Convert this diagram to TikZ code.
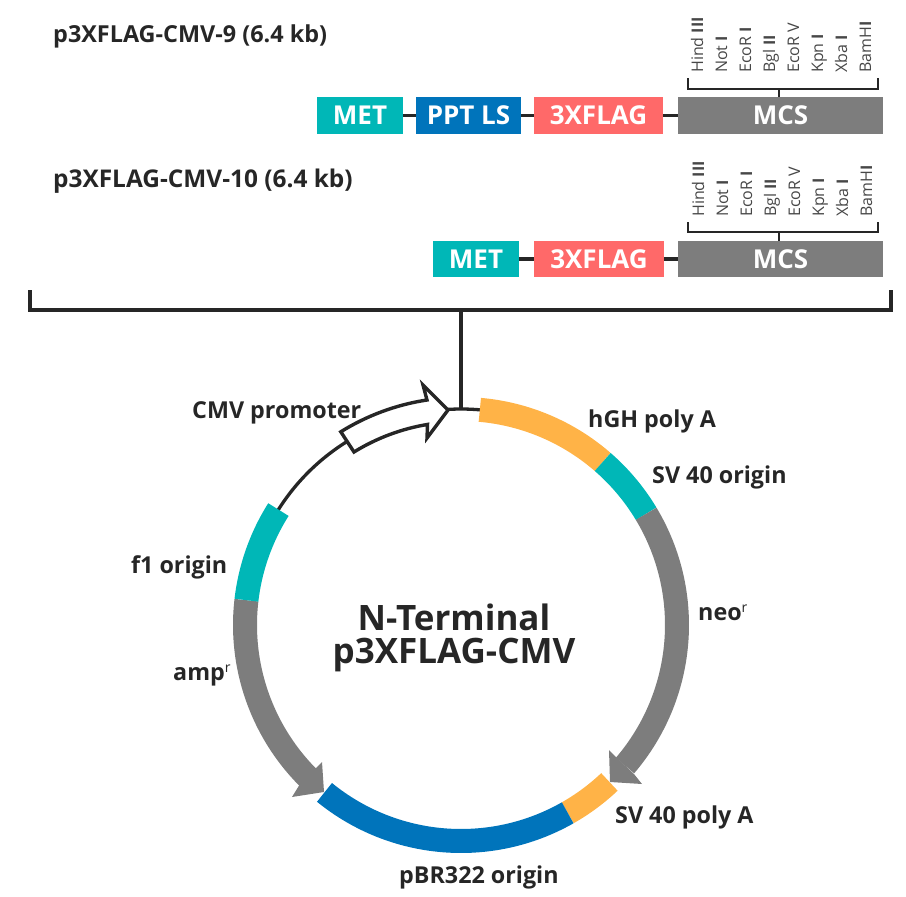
\documentclass[tikz,border=0pt]{standalone}
\usepackage{fontspec}
\setmainfont{Open Sans}
\definecolor{tealc}{HTML}{00B7B7}
\definecolor{bluec}{HTML}{0074BB}
\definecolor{coralc}{HTML}{FF6969}
\definecolor{orangec}{HTML}{FFB347}
\definecolor{greyc}{HTML}{7D7D7D}
\definecolor{inkc}{HTML}{262626}
\tikzset{
  boxn/.style={inner sep=0pt,minimum height=#1,text=white,font=\fontsize{26}{28}\selectfont\bfseries},
  lnk/.style={draw=inkc,line width=3.3pt},
  thinlnk/.style={draw=inkc,line width=2.4pt},
  site/.style={rotate=90,anchor=base west,inner sep=0pt,text=inkc!85!white,font=\fontsize{16}{18}\selectfont},
  lab/.style={anchor=base west,inner sep=0pt,text=inkc,font=\fontsize{23.3}{26}\selectfont\bfseries},
  ttl/.style={anchor=base west,inner sep=0pt,text=inkc,font=\fontsize{23.4}{26}\selectfont\bfseries},
  ttlb/.style={anchor=base west,inner sep=0pt,text=inkc,font=\fontsize{24.4}{26}\selectfont\bfseries},
  big/.style={anchor=base,inner sep=0pt,text=inkc,font=\fontsize{35}{38}\selectfont\bfseries},
  band/.style={line width=24pt,line cap=butt},
}
\newcommand{\seg}[4]{\draw[band,draw=#1] ($(C)+(#2:216pt)$) arc[start angle=#2,end angle=#3,radius=216pt];}
\newcommand{\supr}{\raisebox{8pt}{\fontsize{14}{14}\selectfont\mdseries r}}
\usetikzlibrary{calc}
\begin{document}
\begin{tikzpicture}[x=1pt,y=1pt]
\useasboundingbox (0,-897) rectangle (906,0);
\coordinate (C) at (461,-625);
% titles
\node[ttl] (t1) at (53,-42.5) {p3XFLAG-CMV-9 (6.4 kb)};
\node[ttlb] (t2) at (53,-187) {p3XFLAG-CMV-10 (6.4 kb)};
% row 1
\node[boxn=37pt,minimum width=86pt,fill=tealc] (met1) at (360,-115.5) {MET};
\node[boxn=37pt,minimum width=105pt,fill=bluec] (ppt1) at (468.5,-115.5) {PPT LS};
\node[boxn=37pt,minimum width=129pt,fill=coralc] (flag1) at (598.5,-115.5) {3XFLAG};
\node[boxn=37pt,minimum width=205pt,fill=greyc] (mcs1) at (780.5,-115.5) {MCS};
\draw[lnk] (met1) -- (ppt1);
\draw[lnk] (ppt1) -- (flag1);
\draw[lnk] (flag1) -- (mcs1);
% row 2
\node[boxn=36pt,minimum width=86pt,fill=tealc] (met2) at (476,-259) {MET};
\node[boxn=36pt,minimum width=130pt,fill=coralc] (flag2) at (599,-259) {3XFLAG};
\node[boxn=36pt,minimum width=205pt,fill=greyc] (mcs2) at (780.5,-259) {MCS};
\draw[lnk] (met2) -- (flag2);
\draw[lnk] (flag2) -- (mcs2);
% site labels
\foreach \dx/\yy/\pre in {0/-73/a,1/-217/b}{
  \begin{scope}[xshift=\dx pt]
  \node[site] (\pre1) at (703,\yy) {Hind \textbf{III}};
  \node[site] (\pre2) at (727,\yy) {Not \textbf{I}};
  \node[site] (\pre3) at (751,\yy) {EcoR \textbf{I}};
  \node[site] (\pre4) at (775,\yy) {Bgl \textbf{II}};
  \node[site] (\pre5) at (799,\yy) {EcoR V};
  \node[site] (\pre6) at (823,\yy) {Kpn \textbf{I}};
  \node[site] (\pre7) at (847,\yy) {Xba \textbf{I}};
  \node[site] (\pre8) at (871,\yy) {BamH\textbf{I}};
  \end{scope}
}
% small brackets
\coordinate (s1) at (779,-89);
\coordinate (s2) at (779,-232);
\draw[thinlnk] (688,-78) -- (688,-89) -- (878,-89) -- (878,-78);
\draw[thinlnk] (s1) -- (s1 |- mcs1.north);
\draw[thinlnk] (688,-222) -- (688,-232) -- (878,-232) -- (878,-222);
\draw[thinlnk] (s2) -- (s2 |- mcs2.north);
% big bracket
\draw[lnk] (30,-290) -- (30,-310) -- (891,-310) -- (891,-290);
\coordinate (top) at (461,-409);
\draw[lnk] (461,-310) -- (top);
% backbone
\draw[lnk] ($(C)+(148:216pt)$) arc[start angle=148,end angle=121,radius=216pt];
\draw[lnk] ($(C)+(93.5:216pt)$) arc[start angle=93.5,end angle=84,radius=216pt];
% bands
\seg{orangec}{85}{49}{}
\seg{tealc}{49}{31}{}
\seg{greyc}{31}{-40.6}{}
\fill[greyc] (609,-750) -- (610,-782) -- (642,-784) -- (634,-774) -- (617,-758) -- cycle;
\seg{orangec}{-46.6}{-60.4}{}
\seg{bluec}{-60.4}{-129.2}{}
\seg{greyc}{173.4}{224.8}{}
\fill[greyc] (322,-762) -- (324,-792) -- (292,-797) -- (300,-784) -- (315,-769) -- cycle;
\seg{tealc}{147.7}{173.4}{}
% promoter arrow
\draw[draw=inkc,fill=white,line width=3.4pt,line join=miter,miter limit=6]
  (448,-410) -- (423,-385) -- (427,-400)
  arc[start angle=98.6,end angle=121.9,radius=227.5pt]
  -- (354,-452)
  arc[start angle=121.7,end angle=99.4,radius=203pt]
  -- (427,-438) -- cycle;
% labels
\node[lab] (l1) at (192,-418) {CMV promoter};
\node[lab] (l2) at (588,-427) {hGH poly A};
\node[lab] (l3) at (652,-483) {SV 40 origin};
\node[lab] (l4) at (698,-620) {neo\supr};
\node[lab] (l5) at (131,-573) {f1 origin};
\node[lab] (l6) at (173,-680) {amp\supr};
\node[lab] (l7) at (615,-823) {SV 40 poly A};
\node[lab] (l8) at (399,-883) {pBR322 origin};
\node[big] (c1) at (454,-630) {N-Terminal};
\node[big] (c2) at (454,-663) {p3XFLAG-CMV};
\end{tikzpicture}
\end{document}
